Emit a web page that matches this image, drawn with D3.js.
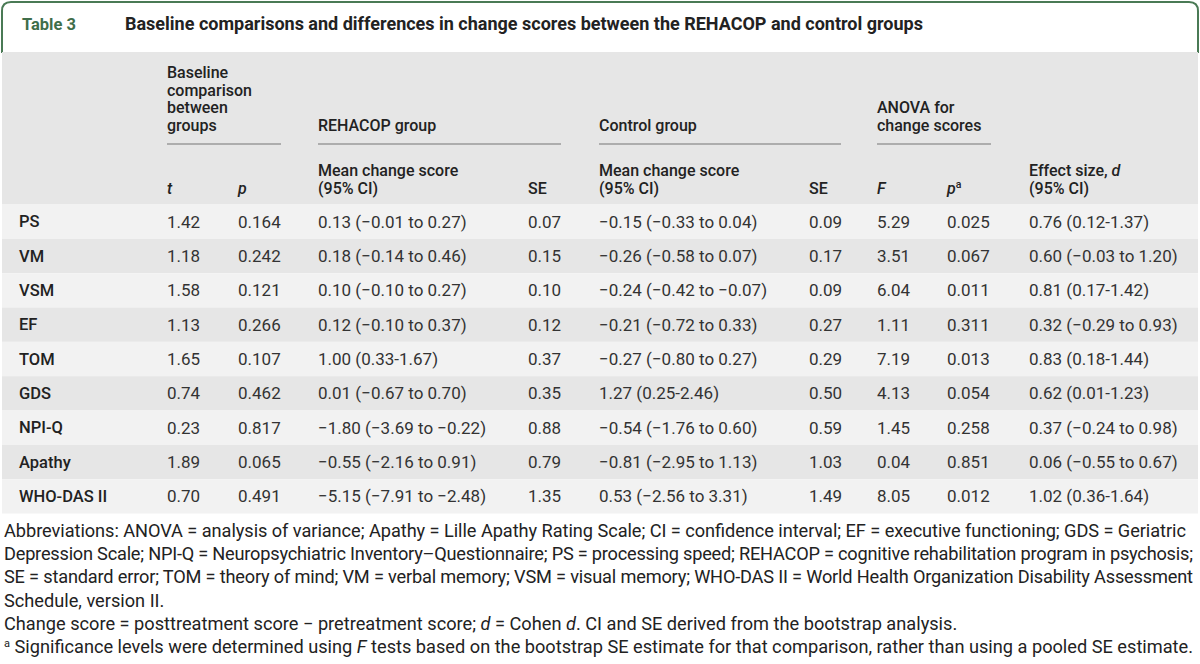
<!DOCTYPE html>
<html>
<head>
<meta charset="utf-8">
<script src="https://cdn.jsdelivr.net/npm/d3@7"></script>
<style>
  html, body { margin: 0; padding: 0; background: #ffffff; }
  svg { display: block; }
</style>
</head>
<body>
<div id="chart"></div>
<script>
// ---------------- DATA ----------------
const measures = ["PS", "VM", "VSM", "EF", "TOM", "GDS", "NPI-Q", "Apathy", "WHO-DAS II"];
const baselineT = [1.42, 1.18, 1.58, 1.13, 1.65, 0.74, 0.23, 1.89, 0.70];
const baselineP = [0.164, 0.242, 0.121, 0.266, 0.107, 0.462, 0.817, 0.065, 0.491];
const rehacopMean = [0.13, 0.18, 0.10, 0.12, 1.00, 0.01, -1.80, -0.55, -5.15];
const rehacopLo = [-0.01, -0.14, -0.10, -0.10, 0.33, -0.67, -3.69, -2.16, -7.91];
const rehacopHi = [0.27, 0.46, 0.27, 0.37, 1.67, 0.70, -0.22, 0.91, -2.48];
const rehacopSE = [0.07, 0.15, 0.10, 0.12, 0.37, 0.35, 0.88, 0.79, 1.35];
const controlMean = [-0.15, -0.26, -0.24, -0.21, -0.27, 1.27, -0.54, -0.81, 0.53];
const controlLo = [-0.33, -0.58, -0.42, -0.72, -0.80, 0.25, -1.76, -2.95, -2.56];
const controlHi = [0.04, 0.07, -0.07, 0.33, 0.27, 2.46, 0.60, 1.13, 3.31];
const controlSE = [0.09, 0.17, 0.09, 0.27, 0.29, 0.50, 0.59, 1.03, 1.49];
const anovaF = [5.29, 3.51, 6.04, 1.11, 7.19, 4.13, 1.45, 0.04, 8.05];
const anovaP = [0.025, 0.067, 0.011, 0.311, 0.013, 0.054, 0.258, 0.851, 0.012];
const effectD = [0.76, 0.60, 0.81, 0.32, 0.83, 0.62, 0.37, 0.06, 1.02];
const effectLo = [0.12, -0.03, 0.17, -0.29, 0.18, 0.01, -0.24, -0.55, 0.36];
const effectHi = [1.37, 1.20, 1.42, 0.93, 1.44, 1.23, 0.98, 0.67, 1.64];

const tableLabel = "Table 3";
const tableTitle = "Baseline comparisons and differences in change scores between the REHACOP and control groups";
const footnoteLines = [
  [["Abbreviations: ANOVA = analysis of variance; Apathy = Lille Apathy Rating Scale; CI = confidence interval; EF = executive functioning; GDS = Geriatric", ""]],
  [["Depression Scale; NPI-Q = Neuropsychiatric Inventory–Questionnaire; PS = processing speed; REHACOP = cognitive rehabilitation program in psychosis;", ""]],
  [["SE = standard error; TOM = theory of mind; VM = verbal memory; VSM = visual memory; WHO-DAS II = World Health Organization Disability Assessment", ""]],
  [["Schedule, version II.", ""]],
  [["Change score = posttreatment score − pretreatment score; ", ""], ["d", "i"], [" = Cohen ", ""], ["d", "i"], [". CI and SE derived from the bootstrap analysis.", ""]],
  [["a", "sup"], [" Significance levels were determined using ", ""], ["F", "i"], [" tests based on the bootstrap SE estimate for that comparison, rather than using a pooled SE estimate.", ""]]
];
// lines of the justified paragraph (right edge in the reference)
const justifiedLines = [0, 1, 2];

// ---------------- LAYOUT ----------------
const W = 1200, H = 664;
const fontTable = "Roboto, 'Noto Sans', sans-serif";
const fontNote = "Roboto, 'Noto Sans', sans-serif";

const svg = d3.select("#chart").append("svg").attr("width", W).attr("height", H)
  .style("background", "#ffffff");

const colKeys = ["label", "t", "p", "rMean", "rSE", "cMean", "cSE", "F", "pa", "d"];
const x = d3.scaleOrdinal().domain(colKeys).range([19, 167, 238, 318, 528, 599, 809, 877, 947, 1029]);
const y = d3.scaleBand().domain(measures).range([204.5, 513.5]).paddingInner(0).paddingOuter(0);

const minus = s => s.replace(/-/g, "\u2212");
const f2 = v => minus(d3.format(".2f")(v));
const f3 = v => minus(d3.format(".3f")(v));
const ci = (m, lo, hi) => (lo < 0 || hi < 0)
  ? `${f2(m)} (${f2(lo)} to ${f2(hi)})`
  : `${f2(m)} (${f2(lo)}-${f2(hi)})`;

// ---- title box ----
const green = "#4a7a55";
svg.append("path")
  .attr("d", `M2,53 L2,11 Q2,2 11,2 L1189,2 Q1198,2 1198,11 L1198,53`)
  .attr("fill", "none").attr("stroke", green).attr("stroke-width", 2);
svg.append("text").attr("x", 22).attr("y", 29.5)
  .attr("font-family", fontTable).attr("font-size", 16.5).attr("font-weight", 700)
  .attr("fill", "#3f6e4a").text(tableLabel);
svg.append("text").attr("x", 125).attr("y", 29.5)
  .attr("font-family", fontTable).attr("font-size", 18).attr("font-weight", 700)
  .attr("fill", "#222").text(tableTitle);

// ---- header background ----
svg.append("rect").attr("x", 2).attr("y", 52).attr("width", 1196).attr("height", 152.5).attr("fill", "#e6e6e6");

// ---- row backgrounds ----
svg.append("g").selectAll("rect").data(measures).join("rect")
  .attr("x", 2).attr("width", 1196)
  .attr("y", d => y(d)).attr("height", y.bandwidth())
  .attr("fill", (d, i) => i % 2 === 0 ? "#f2f2f2" : "#e6e6e6");

// ---- header text ----
const hdr = svg.append("g").attr("font-family", fontTable).attr("font-size", 16)
  .attr("font-weight", 500).attr("fill", "#222");

const lh = 17.5;
const groupBase = 130.5;
const groups = [
  { key: "t", lines: ["Baseline", "comparison", "between", "groups"], end: 281 },
  { key: "rMean", lines: ["REHACOP group"], end: 561 },
  { key: "cMean", lines: ["Control group"], end: 841 },
  { key: "F", lines: ["ANOVA for", "change scores"], end: 991 }
];
groups.forEach(g => {
  const n = g.lines.length;
  g.lines.forEach((ln, i) => {
    hdr.append("text").attr("x", x(g.key)).attr("y", groupBase - (n - 1 - i) * lh).text(ln);
  });
  hdr.append("line").attr("x1", x(g.key)).attr("x2", g.end)
    .attr("y1", 144).attr("y2", 144).attr("stroke", "#9a9a9a").attr("stroke-width", 1.3);
});

const subBase = 193.5;
function subHead(key, parts, line2) {
  const t = hdr.append("text").attr("x", x(key)).attr("y", line2 ? subBase - lh : subBase);
  parts.forEach(([s, st]) => {
    const ts = t.append("tspan").text(s);
    if (st === "i") ts.attr("font-style", "italic");
    if (st === "sup") ts.attr("font-size", 10.5).attr("dy", -6);
  });
  if (line2) hdr.append("text").attr("x", x(key)).attr("y", subBase).text(line2);
}
subHead("t", [["t", "i"]]);
subHead("p", [["p", "i"]]);
subHead("rMean", [["Mean change score", ""]], "(95% CI)");
subHead("rSE", [["SE", ""]]);
subHead("cMean", [["Mean change score", ""]], "(95% CI)");
subHead("cSE", [["SE", ""]]);
subHead("F", [["F", "i"]]);
subHead("pa", [["p", "i"], ["a", "sup"]]);
subHead("d", [["Effect size, ", ""], ["d", "i"]], "(95% CI)");

// ---- body cells ----
const rows = measures.map((m, i) => ({
  label: m,
  t: f2(baselineT[i]),
  p: f3(baselineP[i]),
  rMean: ci(rehacopMean[i], rehacopLo[i], rehacopHi[i]),
  rSE: f2(rehacopSE[i]),
  cMean: ci(controlMean[i], controlLo[i], controlHi[i]),
  cSE: f2(controlSE[i]),
  F: f2(anovaF[i]),
  pa: f3(anovaP[i]),
  d: ci(effectD[i], effectLo[i], effectHi[i])
}));

const body = svg.append("g").attr("font-family", fontTable).attr("font-size", 17).attr("fill", "#2b2b2b");
const rowG = body.selectAll("g.row").data(rows).join("g").attr("class", "row")
  .attr("transform", d => `translate(0,${y(d.label) + y.bandwidth() / 2})`);
rowG.selectAll("text").data(d => colKeys.map(k => ({ k, v: d[k] }))).join("text")
  .attr("x", c => x(c.k)).attr("y", 0).attr("dy", "0.35em")
  .attr("font-size", c => c.k === "label" ? 16.5 : 17)
  .attr("font-weight", c => c.k === "label" ? 500 : 400)
  .attr("fill", c => c.k === "label" ? "#222" : "#333")
  .text(c => c.v);

// ---- footnotes ----
const noteX = 4, noteRight = 1193;
const note = svg.append("g").attr("font-family", fontNote).attr("font-size", 18.2).attr("fill", "#222");
const noteY = d3.scaleLinear().domain([0, footnoteLines.length - 1]).range([537, 653]);
footnoteLines.forEach((parts, i) => {
  const t = note.append("text").attr("x", noteX).attr("y", noteY(i));
  parts.forEach(([s, st]) => {
    const ts = t.append("tspan").text(s);
    if (st === "i") ts.attr("font-style", "italic");
    if (st === "sup") ts.attr("font-size", 11).attr("baseline-shift", "super");
  });
  if (justifiedLines.includes(i)) {
    t.attr("textLength", noteRight - noteX - (i === 0 ? 7 : 0)).attr("lengthAdjust", "spacing");
  } else {
    const w = t.node().getComputedTextLength();
    if (w > noteRight - noteX) t.attr("textLength", noteRight - noteX).attr("lengthAdjust", "spacing");
  }
});
</script>
</body>
</html>
